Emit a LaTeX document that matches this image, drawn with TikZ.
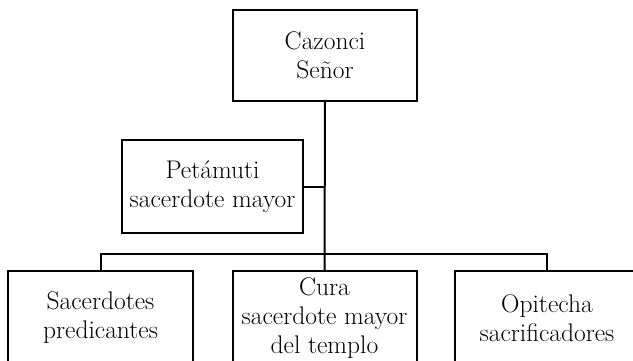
\documentclass[tikz,border=0pt]{standalone}
\begin{document}
\begin{tikzpicture}[x=1pt,y=-1pt,
  box/.style={draw, line width=2pt, rectangle, align=center, inner sep=0pt,
    font=\fontsize{25.5}{29}\selectfont},
  conn/.style={line width=2pt}]
\useasboundingbox (0,0) rectangle (633,360);
\clip (0,0) rectangle (633,360);
\node[box, minimum width=184pt, minimum height=91pt] (caz) at (325,55.5) {Cazonci\\Señor};
\node[box, minimum width=181pt, minimum height=93pt] (pet) at (212.5,186.5) {Petámuti\\sacerdote mayor};
\node[box, minimum width=185pt, minimum height=94pt] (sac) at (100.5,318) {Sacerdotes\\predicantes};
\node[box, minimum width=184pt, minimum height=94pt] (cur) at (324.5,318) {Cura\\sacerdote mayor\\del templo};
\node[box, minimum width=184pt, minimum height=94pt] (opi) at (547,318) {Opitecha\\sacrificadores};
\coordinate (j1) at (caz.south |- pet.east);
\draw[conn] (caz.south) -- (cur.north);
\draw[conn] (pet.east) -- (j1);
\draw[conn] (sac.north) -- ++(0,-16) -| (opi.north);
\end{tikzpicture}
\end{document}
